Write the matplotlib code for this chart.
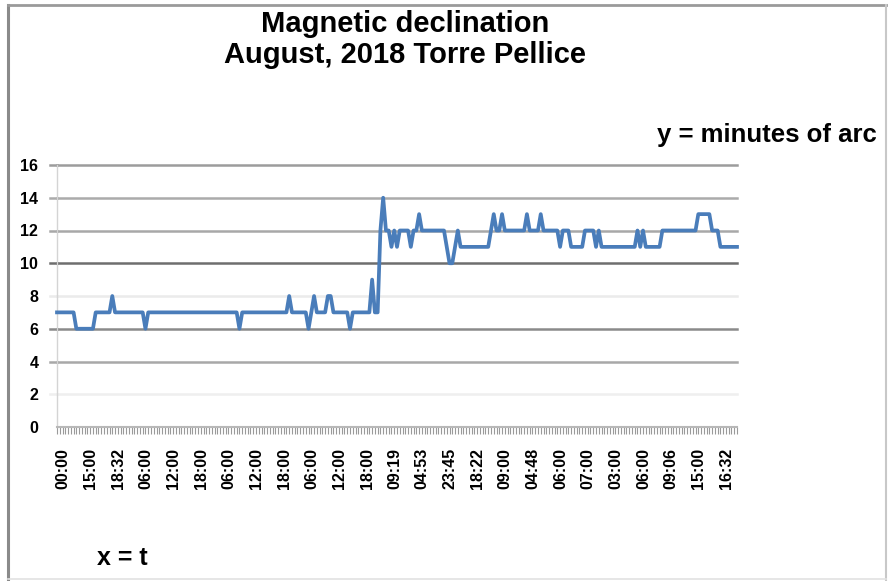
import numpy as np
import matplotlib
matplotlib.use("Agg")
import matplotlib.pyplot as plt
import matplotlib.transforms as mtransforms
from matplotlib.lines import Line2D

# --- data (run-length: value, number of samples) ---
run_values = [7, 6, 7, 8, 7, 6, 7, 6, 7, 8, 7, 6, 7, 8, 7, 8, 7, 6, 7, 9, 7,
              12, 14, 12, 11, 12, 11, 12, 11, 12, 13, 12, 11, 10, 11, 12, 11,
              12, 13, 12, 13, 12, 13, 12, 13, 12, 11, 12, 11, 12, 11, 12, 11,
              12, 11, 12, 11, 12, 13, 12, 11]
run_lengths = [7, 7, 6, 1, 11, 1, 33, 1, 17, 1, 6, 1, 1, 1, 4, 2, 6, 1, 7, 1, 2,
               1, 1, 2, 1, 1, 1, 4, 1, 2, 1, 9, 1, 2, 1, 1, 11,
               1, 1, 2, 1, 8, 1, 4, 1, 6, 1, 3, 5, 4, 1, 1, 13,
               1, 1, 1, 6, 13, 5, 3, 7]

tick_labels = ["00:00", "15:00", "18:32", "06:00", "12:00", "18:00", "06:00",
               "12:00", "18:00", "06:00", "12:00", "18:00", "09:19", "04:53",
               "23:45", "18:22", "09:00", "04:48", "06:00", "07:00", "03:00",
               "06:00", "09:06", "15:00", "16:32"]
label_step = 10
y_ticks = [0, 2, 4, 6, 8, 10, 12, 14, 16]

declination = np.repeat(run_values, run_lengths)
n = len(declination)
x = np.arange(n)

plt.rcParams['font.family'] = ['Liberation Sans', 'DejaVu Sans']

fig = plt.figure(figsize=(8.88, 5.81), dpi=100)
fig.patch.set_facecolor('white')

# outer frame of the picture
W, H = 888.0, 581.0
frame = [((8, 8), (0, 576), '#8a8a8a', 2.2),   # left
         ((8, 886), (576, 576), '#9a9a9a', 2.0),  # top
         ((886, 886), (0, 576), '#c8c8c8', 1.5),  # right
         ((8, 886), (2, 2), '#e2e2e2', 1.2)]      # bottom
for xs, ys, c, lw in frame:
    fig.add_artist(Line2D([v / W for v in xs], [v / H for v in ys],
                          color=c, lw=lw, transform=fig.transFigure))

ax = fig.add_axes([57 / W, (H - 427) / H, (737 - 57) / W, (427 - 165) / H])
ax.set_xlim(0, n - 1)
ax.set_ylim(0, 16)

# horizontal gridlines (the reference shows them in different greys)
grid_colors = {2: '#efefef', 4: '#a8a8a8', 6: '#8a8a8a', 8: '#ebebeb',
               10: '#6e6e6e', 12: '#a8a8a8', 14: '#ababab', 16: '#9c9c9c'}
for yv, c in grid_colors.items():
    ax.axhline(yv, color=c, lw=1.8, zorder=1, clip_on=False)
    ax.plot([-2.5, 0], [yv, yv], color=c, lw=1.8, clip_on=False, zorder=1)

ax.plot(x, declination, color='#4a7dba', lw=2.7, solid_joinstyle='round',
        zorder=3, clip_on=False)

for s in ['top', 'right']:
    ax.spines[s].set_visible(False)
ax.spines['left'].set_color('#d4d4d4')
ax.spines['left'].set_linewidth(1.0)
ax.spines['bottom'].set_color('#b8b8b8')
ax.spines['bottom'].set_linewidth(1.5)

ax.set_yticks(y_ticks)
ax.set_yticklabels([str(v) for v in y_ticks], fontsize=11.5, fontweight='bold')
ax.tick_params(axis='y', length=0, pad=13.5)

ax.set_xticks(x[::label_step][:len(tick_labels)])
ax.set_xticklabels(tick_labels, rotation=90, fontsize=11.5, fontweight='bold')
ax.set_xticks(x, minor=True)
ax.tick_params(axis='x', which='both', length=5, width=0.8, color='#9a9a9a',
               direction='out', pad=10)

# labels sit a few pixels to the right of their ticks in the original
shift = mtransforms.ScaledTranslation(6 / 100, 0, fig.dpi_scale_trans)
for lab in ax.get_xticklabels():
    lab.set_transform(lab.get_transform() + shift)

fig.text(405 / W, 1 - 24 / H, "Magnetic declination", ha='center', va='center',
         fontsize=21, fontweight='bold')
fig.text(405 / W, 1 - 55 / H, "August, 2018 Torre Pellice", ha='center',
         va='center', fontsize=21, fontweight='bold')
fig.text(877 / W, 1 - 135 / H, "y = minutes of arc", ha='right', va='center',
         fontsize=18.5, fontweight='bold')
fig.text(97 / W, 1 - 558 / H, "x = t", ha='left', va='center',
         fontsize=18, fontweight='bold')

fig.savefig("out.png", dpi=100, facecolor='white')
